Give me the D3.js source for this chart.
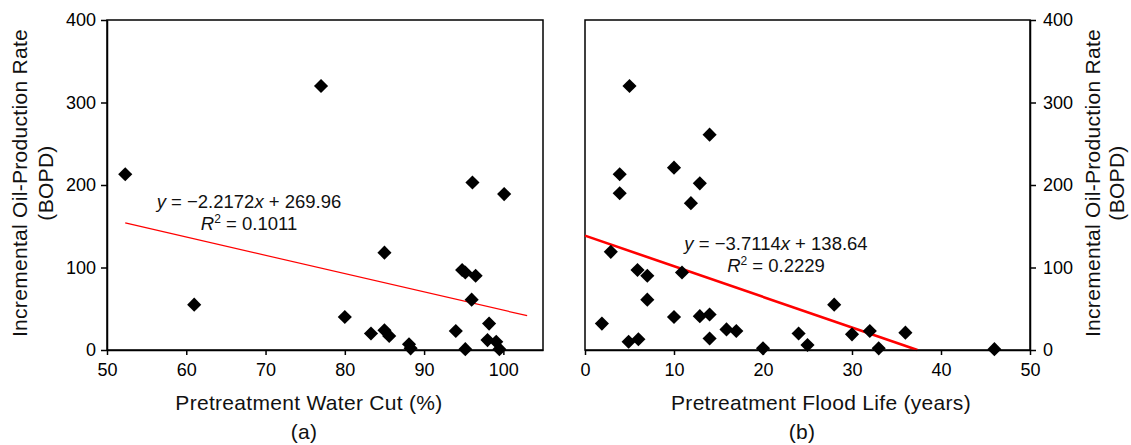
<html>
<head>
<meta charset="utf-8">
<script src="https://d3js.org/d3.v7.min.js"></script>
<style>
  body { margin: 0; background: #fff; }
  svg { font-family: "Liberation Sans", Arial, Helvetica, sans-serif; }
  .axis path, .axis line { stroke: #000; stroke-width: 1.5px; }
  .axis text { font-size: 18px; fill: #000; }
  .title { font-size: 21px; fill: #111; letter-spacing: 0.3px; }
  .eq { font-size: 18.5px; fill: #111; }
</style>
</head>
<body>
<script>
// panel (a): pretreatment water cut vs incremental rate
var waterCut = [52.3, 77, 96.1, 100.1, 61, 80, 83.3, 85, 85, 85.6, 88.1, 88.3, 94, 94.8, 95.2, 95.2, 96, 96.5, 98.2, 98, 99.1, 99.5];
var rateA    = [213, 320, 203, 189, 55, 40, 20, 118, 24, 17, 7, 2, 23, 97, 94, 1, 61, 90, 32, 12, 10, 1];

// panel (b): pretreatment flood life vs incremental rate
var floodLife = [5, 14, 3.9, 10, 12.9, 3.9, 11.9, 2.9, 5.9, 7, 10.9, 7, 1.9, 10, 12.9, 14, 14, 4.9, 6, 15.9, 17, 20, 24, 25, 28, 30, 32, 33, 36, 46];
var rateB     = [320, 261, 213, 221, 202, 190, 178, 119, 97, 90, 94, 61, 32, 40, 41, 43, 14, 10, 13, 25, 23, 2, 20, 6, 55, 19, 23, 2, 21, 1];

// trend lines: slope, intercept, x extent
var fitA = {m: -2.2172, b: 269.96, r2: "0.1011", x0: 52.3, x1: 103};
var fitB = {m: -3.7114, b: 138.64, r2: "0.2229", x0: 0, x1: 138.64 / 3.7114};

var yTicks = [0, 100, 200, 300, 400];
var xTicksA = [50, 60, 70, 80, 90, 100];
var xTicksB = [0, 10, 20, 30, 40, 50];

var W = 1131, H = 445;
var plotTop = 20, plotBottom = 350;

var svg = d3.select("body").append("svg")
  .attr("width", W).attr("height", H);

var y = d3.scaleLinear().domain([0, 400]).range([plotBottom, plotTop]);
var xA = d3.scaleLinear().domain([50, 105]).range([107, 543]);
var xB = d3.scaleLinear().domain([0, 50]).range([585, 1030]);

function pts(xs, ys) { return xs.map(function(d, i) { return [d, ys[i]]; }); }

var diamond = d3.symbol().type(d3.symbolSquare).size(100);

function panel(x, data, fit, lineW) {
  // frame
  svg.append("rect")
    .attr("x", x.range()[0]).attr("y", plotTop)
    .attr("width", x.range()[1] - x.range()[0]).attr("height", plotBottom - plotTop)
    .attr("fill", "none").attr("stroke", "#000").attr("stroke-width", 1.5);

  var fitLine = d3.line().x(function(d) { return x(d); }).y(function(d) { return y(fit.m * d + fit.b); });
  svg.append("path")
    .attr("d", fitLine([fit.x0, fit.x1]))
    .attr("stroke", "#f00").attr("stroke-width", lineW).attr("fill", "none");

  svg.append("g").selectAll("path").data(data).enter().append("path")
    .attr("d", diamond)
    .attr("transform", function(d) { return "translate(" + x(d[0]) + "," + y(d[1]) + ") rotate(45)"; })
    .attr("fill", "#000");
}

panel(xA, pts(waterCut, rateA), fitA, 1.2);
panel(xB, pts(floodLife, rateB), fitB, 2.6);

// axes
svg.append("g").attr("class", "axis")
  .attr("transform", "translate(107,0)")
  .call(d3.axisLeft(y).tickValues(yTicks).tickSize(6).tickPadding(5).tickSizeOuter(0));

svg.append("g").attr("class", "axis")
  .attr("transform", "translate(1030,0)")
  .call(d3.axisRight(y).tickValues(yTicks).tickSize(6).tickPadding(7).tickSizeOuter(0));

svg.append("g").attr("class", "axis")
  .attr("transform", "translate(0," + plotBottom + ")")
  .call(d3.axisBottom(xA).tickValues(xTicksA).tickSize(5).tickPadding(8).tickSizeOuter(0));

svg.append("g").attr("class", "axis")
  .attr("transform", "translate(0," + plotBottom + ")")
  .call(d3.axisBottom(xB).tickValues(xTicksB).tickSize(5).tickPadding(8).tickSizeOuter(0));

svg.selectAll(".axis text").attr("font-family", null).attr("font-size", null);

// axis titles
svg.append("text").attr("class", "title").attr("x", 309).attr("y", 410)
  .attr("text-anchor", "middle").text("Pretreatment Water Cut (%)");
svg.append("text").attr("class", "title").attr("x", 304).attr("y", 439)
  .attr("text-anchor", "middle").text("(a)");
svg.append("text").attr("class", "title").attr("x", 821).attr("y", 410)
  .attr("text-anchor", "middle").text("Pretreatment Flood Life (years)");
svg.append("text").attr("class", "title").attr("x", 802).attr("y", 439)
  .attr("text-anchor", "middle").text("(b)");

function yTitle(x1, x2) {
  var g = svg.append("g");
  g.append("text").attr("class", "title").attr("transform", "translate(" + x1 + ",183) rotate(-90)")
    .attr("text-anchor", "middle").text("Incremental Oil-Production Rate");
  g.append("text").attr("class", "title").attr("transform", "translate(" + x2 + ",183) rotate(-90)")
    .attr("text-anchor", "middle").text("(BOPD)");
}
yTitle(27, 53);
yTitle(1100, 1124);

// equations
function eq(cx, by, fit) {
  var t = svg.append("text").attr("class", "eq").attr("x", cx).attr("y", by).attr("text-anchor", "middle");
  t.append("tspan").attr("font-style", "italic").text("y");
  t.append("tspan").text(" = \u2212" + Math.abs(fit.m).toFixed(4));
  t.append("tspan").attr("font-style", "italic").text("x");
  t.append("tspan").text(" + " + fit.b.toFixed(2));
  var r = svg.append("text").attr("class", "eq").attr("x", cx).attr("y", by + 22).attr("text-anchor", "middle");
  r.append("tspan").attr("font-style", "italic").text("R");
  r.append("tspan").attr("font-size", "12px").attr("dy", -7).text("2");
  r.append("tspan").attr("dy", 7).text(" = " + fit.r2);
}
eq(249, 208, fitA);
eq(776, 250, fitB);
</script>
</body>
</html>
